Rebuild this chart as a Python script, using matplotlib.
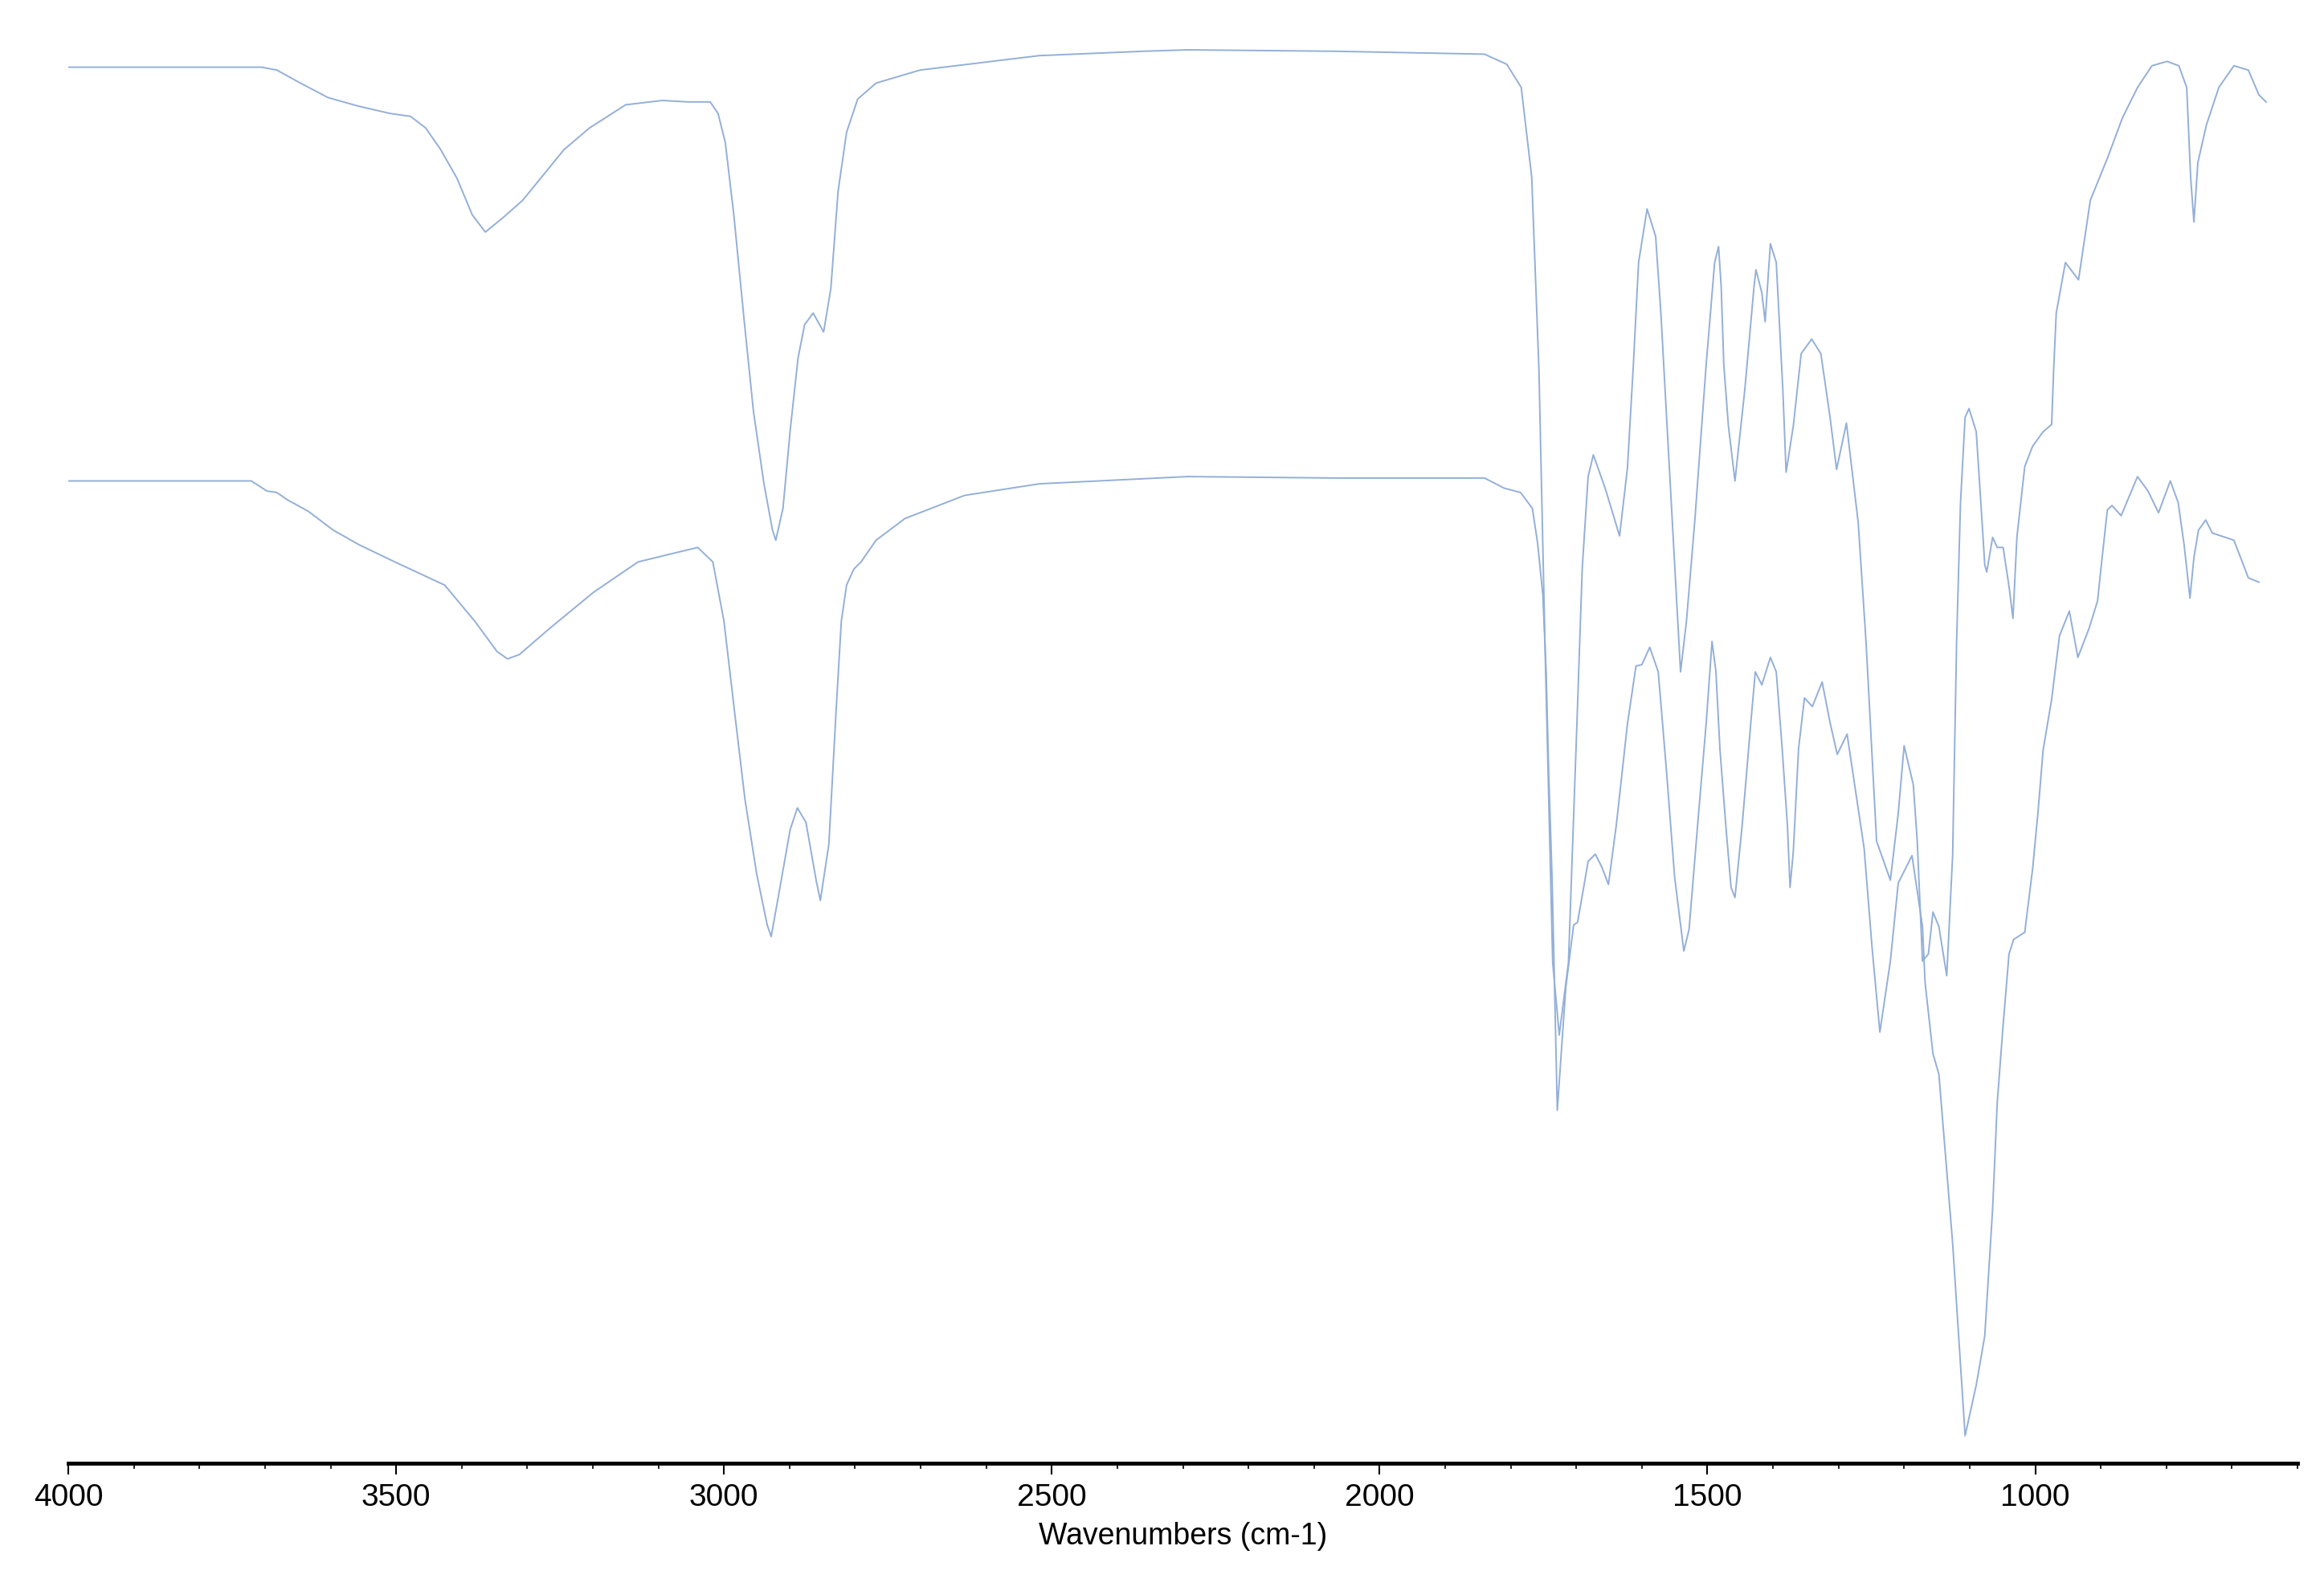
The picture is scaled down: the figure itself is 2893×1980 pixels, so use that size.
import matplotlib
matplotlib.use("Agg")
import matplotlib.pyplot as plt
from matplotlib.ticker import MultipleLocator

plt.rcParams['font.family'] = ['Liberation Sans', 'DejaVu Sans']

# upper spectrum (wavenumber cm-1, transmittance a.u.)
upper_wn = [4000, 3705, 3682, 3650, 3604, 3557, 3509, 3478, 3455, 3432, 3407, 3384, 3364,
            3337, 3307, 3244, 3205, 3150, 3094, 3055, 3021, 3009, 2998, 2985, 2969, 2955,
            2939, 2926, 2921, 2910, 2899, 2887, 2877, 2864, 2848, 2837, 2826, 2813, 2796,
            2768, 2701, 2519, 2361, 2293, 2067, 1840, 1806, 1784, 1768, 1757, 1747, 1736,
            1726, 1712, 1699, 1691, 1682, 1674, 1656, 1634, 1622, 1613, 1605, 1592, 1579,
            1571, 1558, 1545, 1541, 1532, 1519, 1502, 1489, 1483, 1479, 1475, 1468, 1458,
            1443, 1429, 1426, 1417, 1412, 1404, 1395, 1391, 1385, 1380, 1369, 1357, 1341,
            1327, 1313, 1303, 1288, 1270, 1258, 1242, 1221, 1209, 1200, 1186, 1180, 1172,
            1163, 1156, 1147, 1135, 1126, 1120, 1114, 1107, 1101, 1090, 1083, 1077, 1074,
            1065, 1058, 1049, 1040, 1034, 1028, 1016, 1004, 988, 975, 972, 968, 954, 934,
            916, 890, 867, 844, 822, 799, 781, 769, 763, 758, 752, 739, 720, 697, 675, 659, 648]
upper_t = [96.5, 96.5, 96.3, 95.5, 94.4, 93.8, 93.3, 93.1, 92.3, 90.8, 88.8, 86.3, 85.1,
           86.1, 87.3, 90.8, 92.3, 93.9, 94.2, 94.1, 94.1, 93.3, 91.3, 86.3, 78.9, 72.7,
           67.7, 64.5, 63.8, 66.0, 71.4, 76.4, 78.7, 79.5, 78.2, 81.2, 87.9, 92.0, 94.3,
           95.4, 96.3, 97.3, 97.6, 97.7, 97.6, 97.4, 96.7, 95.1, 88.9, 75.6, 55.1, 34.6,
           29.6, 34.6, 51.2, 61.8, 68.2, 69.7, 67.4, 64.1, 68.8, 75.9, 83.0, 86.7, 84.8,
           79.5, 68.8, 58.2, 54.7, 58.2, 65.3, 75.9, 83.0, 84.1, 81.3, 75.9, 71.7, 67.9,
           74.2, 81.3, 82.5, 80.9, 78.9, 84.3, 83.0, 79.5, 74.2, 68.5, 71.7, 76.7, 77.7,
           76.7, 72.3, 68.7, 71.9, 65.0, 56.7, 43.0, 40.3, 44.9, 49.6, 46.9, 43.0, 34.7,
           35.2, 38.1, 37.1, 33.7, 42.0, 56.7, 66.4, 72.3, 72.9, 71.3, 66.4, 62.1, 61.6,
           64.0, 63.3, 63.3, 60.6, 58.4, 64.0, 68.9, 70.3, 71.3, 71.8, 75.5, 79.5, 83.0, 81.8,
           87.3, 90.2, 93.0, 95.1, 96.6, 96.9, 96.6, 95.1, 88.9, 85.8, 89.9, 92.5, 95.1,
           96.6, 96.3, 94.6, 94.1]

# lower spectrum
lower_wn = [4000, 3721, 3697, 3682, 3666, 3634, 3596, 3557, 3502, 3426, 3380, 3346, 3330,
            3312, 3266, 3199, 3131, 3086, 3040, 3017, 3000, 2984, 2968, 2950, 2934, 2928,
            2915, 2899, 2888, 2875, 2859, 2853, 2840, 2829, 2821, 2813, 2802, 2791, 2768,
            2724, 2633, 2519, 2293, 2067, 1840, 1810, 1785, 1767, 1759, 1751, 1746, 1742,
            1737, 1734, 1729, 1716, 1704, 1698, 1688, 1682, 1671, 1661, 1651, 1639, 1622,
            1609, 1600, 1588, 1575, 1562, 1550, 1536, 1528, 1515, 1502, 1493, 1487, 1481,
            1472, 1464, 1458, 1447, 1434, 1427, 1417, 1404, 1395, 1386, 1378, 1374, 1369,
            1361, 1352, 1340, 1325, 1313, 1302, 1287, 1261, 1249, 1237, 1221, 1209, 1188,
            1172, 1168, 1156, 1147, 1126, 1107, 1090, 1077, 1065, 1058, 1049, 1040, 1033,
            1016, 1004, 996, 988, 975, 963, 948, 935, 918, 905, 898, 890, 883, 869, 856,
            844, 828, 812, 794, 782, 773, 764, 758, 751, 740, 730, 697, 675, 659]
lower_t = [67.9, 67.9, 67.2, 67.1, 66.6, 65.8, 64.5, 63.5, 62.3, 60.7, 58.2, 56.1, 55.6,
           55.9, 57.7, 60.2, 62.3, 62.8, 63.3, 62.3, 58.2, 52.0, 45.9, 40.7, 37.2, 36.4,
           39.7, 43.8, 45.3, 44.3, 40.2, 38.9, 42.8, 52.0, 58.2, 60.7, 61.8, 62.3, 63.8,
           65.3, 66.9, 67.7, 68.2, 68.1, 68.1, 67.4, 67.1, 66.0, 63.6, 60.0, 54.7, 47.6,
           40.5, 34.6, 24.4, 32.9, 37.2, 37.4, 40.0, 41.6, 42.1, 41.2, 40.0, 44.1, 51.1,
           55.1, 55.2, 56.4, 54.7, 47.6, 40.5, 35.4, 36.9, 44.1, 51.1, 56.8, 54.7, 49.4,
           44.1, 39.8, 39.1, 44.1, 51.1, 54.7, 53.8, 55.7, 54.7, 49.4, 44.1, 39.8, 42.3,
           49.4, 52.9, 52.3, 54.0, 51.2, 49.0, 50.4, 42.5, 35.7, 29.8, 34.7, 40.1, 42.0,
           37.1, 33.2, 28.3, 26.9, 15.2, 1.9, 5.4, 8.8, 17.6, 24.9, 30.3, 35.2, 36.2,
           36.7, 41.1, 44.9, 49.3, 52.8, 57.2, 58.9, 55.7, 57.7, 59.6, 62.6, 65.9, 66.2,
           65.5, 66.9, 68.2, 67.2, 65.7, 67.9, 66.4, 63.5, 59.8, 62.6, 64.5, 65.2, 64.3,
           63.8, 61.2, 60.9]

fig = plt.figure(figsize=(28.93, 19.81), dpi=100)
ax = fig.add_axes([0.0294, 0.0803, 0.9592, 0.9197])

line_color = '#93afd8'
ax.plot(upper_wn, upper_t, color=line_color, lw=1.4, solid_joinstyle='round')
ax.plot(lower_wn, lower_t, color=line_color, lw=1.4, solid_joinstyle='round')

ax.set_xlim(4000, 600)
ax.set_ylim(0, 101.2)

ax.xaxis.set_major_locator(MultipleLocator(500))
ax.xaxis.set_minor_locator(MultipleLocator(100))
ax.tick_params(axis='x', which='major', length=10, width=1.5, labelsize=28, pad=7)
ax.tick_params(axis='x', which='minor', length=5, width=1.2)
ax.set_yticks([])

for side in ['top', 'left', 'right']:
    ax.spines[side].set_visible(False)
ax.spines['bottom'].set_linewidth(3.5)

ax.set_xlabel('Wavenumbers (cm-1)', fontsize=27, labelpad=9)

fig.savefig('out.png', dpi=100, facecolor='white')
